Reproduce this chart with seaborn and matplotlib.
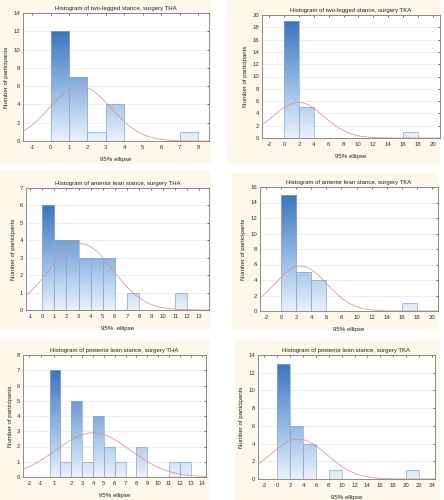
import numpy as np
import pandas as pd
import matplotlib
matplotlib.use("Agg")
import matplotlib.pyplot as plt
from matplotlib.colors import LinearSegmentedColormap
from matplotlib.patches import Rectangle
import seaborn as sns

sns.set_theme(style="white")
plt.rcParams['font.family'] = ['Liberation Sans', 'DejaVu Sans']

# ---------------- data ----------------
titles = [
    "Histogram of two-legged stance, surgery THA",
    "Histogram of two-legged stance, surgery TKA",
    "Histogram of anterior lean stance, surgery THA",
    "Histogram of anterior lean stance, surgery TKA",
    "Histogram of posterior lean stance, surgery THA",
    "Histogram of posterior lean stance, surgery TKA",
]
xlabels = ["95% ellipse", "95% ellipse", "95%  ellipse", "95% ellipse", "95% ellipse", "95% ellipse"]
ylabel = "Number of participants"

bin_widths = [1, 2, 1, 2, 1, 2]
bin_lefts = [
    [0, 1, 2, 3, 7],
    [0, 2, 16],
    [0, 1, 2, 3, 4, 5, 7, 11],
    [0, 2, 4, 16],
    [0, 1, 2, 3, 4, 5, 6, 8, 11, 12],
    [0, 2, 4, 8, 20],
]
counts = [
    [12, 7, 1, 4, 1],
    [19, 5, 1],
    [6, 4, 4, 3, 3, 3, 1, 1],
    [15, 5, 4, 1],
    [7, 1, 5, 1, 4, 2, 1, 2, 1, 1],
    [13, 6, 4, 1, 1],
]
fit_mean = [1.6, 1.9, 3.2, 2.6, 4.0, 3.3]
fit_sd = [1.66, 3.44, 2.62, 3.44, 3.44, 4.43]

xlims = [(-1.5, 8.6), (-3.0, 21.0), (-1.35, 13.8), (-2.8, 20.8), (-2.45, 14.4), (-3.0, 24.5)]
ylims = [14, 20, 7, 16, 8, 14]
ysteps = [2, 2, 1, 2, 1, 2]
xtick_pos = [
    list(range(-1, 9)),
    list(range(-2, 21, 2)),
    list(range(-1, 14)),
    list(range(-2, 21, 2)),
    [-1.9, -0.8, 0.4, 2, 3, 4, 5, 6, 7, 8, 9, 10, 11, 12, 13, 14],
    list(range(-2, 25, 2)),
]
xtick_labels = [
    [str(v) for v in range(-1, 9)],
    [str(v) for v in range(-2, 21, 2)],
    [str(v) for v in range(-1, 14)],
    [str(v) for v in range(-2, 21, 2)],
    ["-2", "-1", "1", "2", "3", "4", "5", "6", "7", "8", "9", "10", "11", "12", "13", "14"],
    [str(v) for v in range(-2, 25, 2)],
]

# ---------------- layout (pixels) ----------------
W, H = 444, 500
cards = [(0, 0, 211, 164), (227, 0, 213, 164), (0, 170, 211, 160),
         (232, 173, 206, 157), (0, 340, 210, 160), (235, 340, 205, 160)]
axes_px = [(23, 13, 209, 141), (262, 15, 440, 138), (26, 188, 209, 310),
           (260, 187, 438, 311), (23, 355, 206, 477), (258, 355, 435, 479)]

fig = plt.figure(figsize=(W / 100, H / 100), dpi=100, facecolor="white")
for (x, y, w, h) in cards:
    fig.add_artist(Rectangle((x / W, 1 - (y + h) / H), w / W, h / H,
                             transform=fig.transFigure, facecolor="#fdf8ea",
                             edgecolor="none", zorder=0))

cmap = LinearSegmentedColormap.from_list("g", ["#eaf2fc", "#8db4e2", "#3b74be"])
grad = np.linspace(0, 1, 256).reshape(-1, 1)

for i in range(6):
    l, t, r, b = axes_px[i]
    ax = fig.add_axes([l / W, 1 - b / H, (r - l) / W, (b - t) / H])
    w = bin_widths[i]
    lefts = np.array(bin_lefts[i], dtype=float)
    edges = np.arange(lefts.min(), lefts.max() + w + 0.001, w).tolist()
    df = pd.DataFrame({"val": lefts + w / 2, "n": np.array(counts[i], dtype=float)})
    sns.histplot(data=df, x="val", weights="n", bins=edges, ax=ax,
                 stat="count", element="bars", fill=True,
                 facecolor="none", edgecolor="#8ea9cf", linewidth=0.5, alpha=1)
    cmax = max(counts[i])
    for p in list(ax.patches):
        if p.get_height() <= 0:
            p.set_visible(False)
            continue
        x0 = p.get_x()
        im = ax.imshow(grad, extent=[x0, x0 + p.get_width(), 0, cmax], origin="lower",
                       cmap=cmap, aspect="auto", zorder=1.5, interpolation="bilinear")
        im.set_clip_path(p)
        p.set_zorder(2)

    xs = np.linspace(xlims[i][0], xlims[i][1], 300)
    n = sum(counts[i])
    ys = n * w / (fit_sd[i] * np.sqrt(2 * np.pi)) * np.exp(-0.5 * ((xs - fit_mean[i]) / fit_sd[i]) ** 2)
    sns.lineplot(x=xs, y=ys, ax=ax, color="#d8909a", linewidth=0.55, zorder=3)

    ax.set_xlim(*xlims[i])
    ax.set_ylim(0, ylims[i])
    ax.set_yticks(np.arange(0, ylims[i] + 0.01, ysteps[i]))
    ax.set_xticks(xtick_pos[i])
    ax.set_xticklabels(xtick_labels[i])
    ax.grid(axis="y", color="#e8e8e8", linewidth=0.5)
    ax.set_axisbelow(True)
    ax.tick_params(axis="both", labelsize=4.3, colors="#333333", length=1.5, width=0.5,
                   direction="in", pad=2, top=True, right=True)
    ax.tick_params(axis="x", pad=3)
    for s in ax.spines.values():
        s.set_color("#7a7a7a")
        s.set_linewidth(0.6)
    ax.set_title(titles[i], fontsize=4.3, color="#222222", pad=2.5)
    ax.set_xlabel(xlabels[i], fontsize=4.4, color="#222222", labelpad=5)
    ax.set_ylabel(ylabel, fontsize=4.4, color="#222222", labelpad=3)

fig.savefig("out.png", dpi=100, facecolor="white")
